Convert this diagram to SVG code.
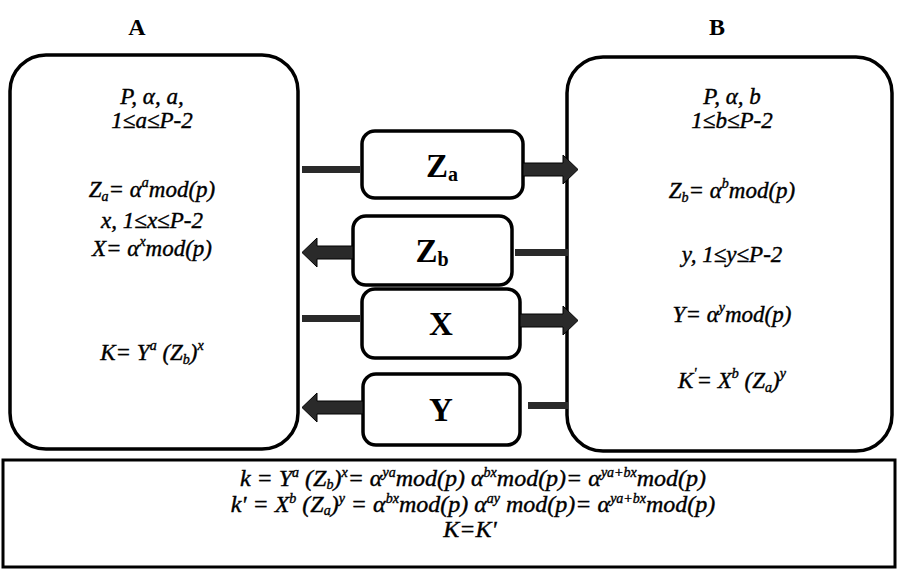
<svg xmlns="http://www.w3.org/2000/svg" width="899" height="570" viewBox="0 0 899 570">
<style>
.big{fill:#fff;stroke:#000;stroke-width:3.5}
.mid{fill:#fff;stroke:#000;stroke-width:3.5}
.t{font-family:"Liberation Serif","Times New Roman",serif;font-style:italic;font-size:23px;fill:#000;stroke:#000;stroke-width:0.4;text-anchor:middle}
.b{font-size:24px}
.s{font-size:14px}
.lbl{font-family:"Liberation Serif","Times New Roman",serif;font-weight:bold;font-size:33px;fill:#000;text-anchor:middle}
.hd{font-family:"Liberation Serif","Times New Roman",serif;font-weight:bold;font-size:24px;fill:#000;text-anchor:middle}
.arr{fill:#2a2a2a;stroke:#000;stroke-width:1}
.stub{fill:#2a2a2a}
</style>
<rect width="899" height="570" fill="#fff"/>
<text class="hd" x="137" y="35">A</text>
<text class="hd" x="717" y="35">B</text>

<g id="nodeA">
<rect class="big" x="10" y="55" width="288" height="394" rx="36"/>
<text class="t" x="152" y="104">P, α, a,</text>
<text class="t" x="152" y="128">1≤a≤P-2</text>
<text class="t" x="152" y="197">Z<tspan class="s" dy="4">a</tspan><tspan dy="-4">= α</tspan><tspan class="s" dy="-10">a</tspan><tspan dy="10">mod(p)</tspan></text>
<text class="t" x="152" y="228">x, 1≤x≤P-2</text>
<text class="t" x="152" y="256">X= α<tspan class="s" dy="-10">x</tspan><tspan dy="10">mod(p)</tspan></text>
<text class="t" x="152" y="360">K= Y<tspan class="s" dy="-10">a</tspan><tspan dy="10"> (Z</tspan><tspan class="s" dy="4">b</tspan><tspan dy="-4">)</tspan><tspan class="s" dy="-10">x</tspan></text>
</g>

<g id="nodeB">
<rect class="big" x="567" y="57" width="325" height="394" rx="36"/>
<text class="t" x="732" y="104">P, α, b</text>
<text class="t" x="732" y="128">1≤b≤P-2</text>
<text class="t" x="732" y="198">Z<tspan class="s" dy="4">b</tspan><tspan dy="-4">= α</tspan><tspan class="s" dy="-10">b</tspan><tspan dy="10">mod(p)</tspan></text>
<text class="t" x="732" y="262">y, 1≤y≤P-2</text>
<text class="t" x="732" y="322">Y= α<tspan class="s" dy="-10">y</tspan><tspan dy="10">mod(p)</tspan></text>
<text class="t" x="732" y="388">K<tspan class="s" dy="-10">'</tspan><tspan dy="10">= X</tspan><tspan class="s" dy="-10">b</tspan><tspan dy="10"> (Z</tspan><tspan class="s" dy="4">a</tspan><tspan dy="-4">)</tspan><tspan class="s" dy="-10">y</tspan></text>
</g>

<g id="nodeZa">
<rect class="mid" x="362" y="131" width="161" height="67" rx="13"/>
<text class="lbl" x="442" y="177">Z<tspan font-size="20" dy="4">a</tspan></text>
</g>
<g id="nodeZb">
<rect class="mid" x="353" y="216" width="159" height="69" rx="13"/>
<text class="lbl" x="432" y="262">Z<tspan font-size="20" dy="4">b</tspan></text>
</g>
<g id="nodeX">
<rect class="mid" x="362" y="289" width="158" height="69" rx="13"/>
<text class="lbl" x="441" y="335">X</text>
</g>
<g id="nodeY">
<rect class="mid" x="363" y="374" width="157" height="71" rx="13"/>
<text class="lbl" x="441" y="421">Y</text>
</g>

<g id="connectors">
<rect class="stub" x="302" y="166" width="58" height="7"/>
<path class="arr" d="M523,163 H563 V155 L578,169.5 L563,184 V176 H523 Z"/>
<path class="arr" d="M353,246 H317 V238 L302,252.5 L317,267 V259 H353 Z"/>
<rect class="stub" x="515" y="249" width="53" height="7"/>
<rect class="stub" x="302" y="315" width="58" height="7"/>
<path class="arr" d="M520,314 H563 V306 L578,320.5 L563,335 V327 H520 Z"/>
<path class="arr" d="M363,401 H317 V393 L302,407.5 L317,422 V414 H363 Z"/>
<rect class="stub" x="528" y="402" width="40" height="7"/>
</g>

<g id="summary">
<rect x="3" y="460" width="892" height="107" fill="#fff" stroke="#000" stroke-width="3"/>
<text class="t b" x="473" y="486">k = Y<tspan class="s" dy="-9">a</tspan><tspan dy="9"> (Z</tspan><tspan class="s" dy="3">b</tspan><tspan dy="-3">)</tspan><tspan class="s" dy="-9">x</tspan><tspan dy="9">= α</tspan><tspan class="s" dy="-9">ya</tspan><tspan dy="9">mod(p) α</tspan><tspan class="s" dy="-9">bx</tspan><tspan dy="9">mod(p)= α</tspan><tspan class="s" dy="-9">ya+bx</tspan><tspan dy="9">mod(p)</tspan></text>
<text class="t b" x="473" y="512">k' = X<tspan class="s" dy="-9">b</tspan><tspan dy="9"> (Z</tspan><tspan class="s" dy="3">a</tspan><tspan dy="-3">)</tspan><tspan class="s" dy="-9">y</tspan><tspan dy="9"> = α</tspan><tspan class="s" dy="-9">bx</tspan><tspan dy="9">mod(p) α</tspan><tspan class="s" dy="-9">ay</tspan><tspan dy="9"> mod(p)= α</tspan><tspan class="s" dy="-9">ya+bx</tspan><tspan dy="9">mod(p)</tspan></text>
<text class="t b" x="470" y="537">K=K'</text>
</g>
</svg>
